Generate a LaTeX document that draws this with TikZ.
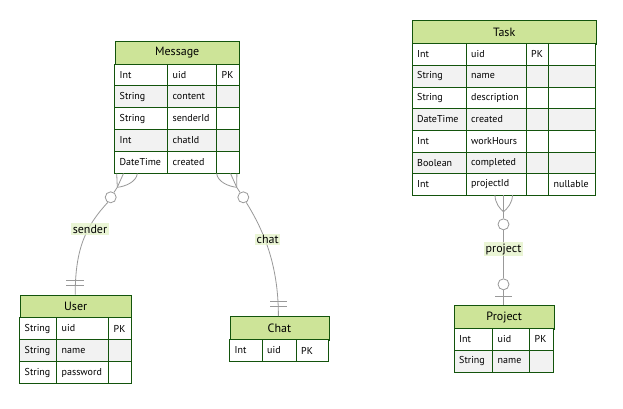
\documentclass[tikz,border=0pt]{standalone}
\usepackage{fontspec}
\setmainfont{PT Sans}
\definecolor{erb}{HTML}{13540C}
\definecolor{hdrfill}{HTML}{CDE498}
\definecolor{rowgrey}{HTML}{F2F2F2}
\definecolor{lnk}{HTML}{999999}
\definecolor{lblbg}{HTML}{E4F2C8}
\newcount\cellno
\newcommand\ercell[6]{%
  \global\advance\cellno by 1
  \filldraw[fill=#5, draw=erb, line width=0.9pt] (#1,#2) rectangle (#3,#4);
  \node[attr] (cell\the\cellno) at (#1,{(#2+#4)/2}) {#6};
}
\newcommand\rowthree[6]{%
  \ercell{\xa}{#1}{\xb}{#2}{#3}{#4}%
  \ercell{\xb}{#1}{\xc}{#2}{#3}{#5}%
  \ercell{\xc}{#1}{\xd}{#2}{#3}{#6}%
}
\newcommand\rowfour[7]{%
  \ercell{\xa}{#1}{\xb}{#2}{#3}{#4}%
  \ercell{\xb}{#1}{\xc}{#2}{#3}{#5}%
  \ercell{\xc}{#1}{\xd}{#2}{#3}{#6}%
  \ercell{\xd}{#1}{\xe}{#2}{#3}{#7}%
}
\begin{document}
\begin{tikzpicture}[x=1pt,y=-1pt,
  attr/.style={anchor=west, inner sep=0pt, xshift=5pt, font=\fontsize{10}{12}\selectfont},
  hdr/.style={anchor=north west, draw=erb, fill=hdrfill, line width=0.9pt, inner sep=0pt,
    font=\fontsize{12}{14}\selectfont},
  lnkline/.style={draw=lnk, line width=0.8pt},
  ring/.style={circle, draw=lnk, line width=0.8pt, fill=white, minimum size=11pt, inner sep=0pt},
  lbl/.style={fill=lblbg, fill opacity=0.75, text opacity=1, inner sep=1.5pt,
    font=\fontsize{12}{14}\selectfont}]
\useasboundingbox (0,0) rectangle (623,408);
\fill[white] (0,0) rectangle (623,408);

% ---------- Message ----------
\def\xa{114.5}\def\xb{167.5}\def\xc{216.5}\def\xd{239}
\node[hdr, minimum width=124.5pt, minimum height=23.5pt] (message) at (114.5,40.5) {Message};
\rowthree{64}{85.5}{white}{Int}{uid}{PK}
\rowthree{85.5}{107.5}{rowgrey}{String}{content}{}
\rowthree{107.5}{129.5}{white}{String}{senderId}{}
\rowthree{129.5}{151.5}{rowgrey}{Int}{chatId}{}
\rowthree{151.5}{173.5}{white}{DateTime}{created}{}

% ---------- Task ----------
\def\xa{412}\def\xb{466}\def\xc{526}\def\xd{548.5}\def\xe{595.5}
\node[hdr, minimum width=183.5pt, minimum height=23.5pt] (task) at (412,20) {Task};
\rowfour{43.5}{65}{white}{Int}{uid}{PK}{}
\rowfour{65}{87}{rowgrey}{String}{name}{}{}
\rowfour{87}{108.5}{white}{String}{description}{}{}
\rowfour{108.5}{130}{rowgrey}{DateTime}{created}{}{}
\rowfour{130}{152}{white}{Int}{workHours}{}{}
\rowfour{152}{173.5}{rowgrey}{Boolean}{completed}{}{}
\rowfour{173.5}{195}{white}{Int}{projectId}{}{nullable}

% ---------- User ----------
\def\xa{19.5}\def\xb{56.5}\def\xc{108.5}\def\xd{131}
\node[hdr, minimum width=111.5pt, minimum height=23pt] (user) at (19.5,294.5) {User};
\rowthree{317.5}{339.5}{white}{String}{uid}{PK}
\rowthree{339.5}{361.5}{rowgrey}{String}{name}{}
\rowthree{361.5}{383.5}{white}{String}{password}{}

% ---------- Chat ----------
\def\xa{229.5}\def\xb{262}\def\xc{296}\def\xd{328.5}
\node[hdr, minimum width=99pt, minimum height=23.5pt] (chat) at (229.5,316) {Chat};
\rowthree{339.5}{361.5}{white}{Int}{uid}{PK}

% ---------- Project ----------
\def\xa{454}\def\xb{492.5}\def\xc{529.5}\def\xd{553.5}
\node[hdr, minimum width=99.5pt, minimum height=23.5pt] (project) at (454,305) {Project};
\rowthree{328.5}{350}{white}{Int}{uid}{PK}
\rowthree{350}{372.5}{rowgrey}{String}{name}{}

% ---------- Message -- User (sender) ----------
\coordinate (a1) at (117.3,187.3);
\coordinate (m1l) at (116.7,173.5);
\coordinate (m1m) at (123.5,173.5);
\coordinate (m1r) at (137.3,173.5);
\coordinate (u1) at (75.2,294.5);
\coordinate (u1b1l) at (66,280); \coordinate (u1b1r) at (83.5,280);
\coordinate (u1b2l) at (66,285); \coordinate (u1b2r) at (83.5,285);
\node[ring] (r1) at (110.7,197.3) {};
\draw[lnkline] (m1l) -- (a1);
\draw[lnkline] (m1m) -- (a1);
\draw[lnkline] (m1r) .. controls (136.5,182) and (125,186.5) .. (a1);
\draw[lnkline] (a1) -- (r1);
\draw[lnkline] (r1.-120) .. controls (86,226) and (75.2,248) .. (u1);
\draw[lnkline] (u1b1l) -- (u1b1r);
\draw[lnkline] (u1b2l) -- (u1b2r);
\node[lbl] (l1) at (90,229) {sender};

% ---------- Message -- Chat (chat) ----------
\coordinate (a2) at (236.7,187.3);
\coordinate (m2l) at (216.7,173.5);
\coordinate (m2m) at (230.5,173.5);
\coordinate (m2r) at (236.9,173.5);
\coordinate (c2) at (278.4,316);
\coordinate (c2b1l) at (270,301.7); \coordinate (c2b1r) at (287,301.7);
\coordinate (c2b2l) at (270,306.7); \coordinate (c2b2r) at (287,306.7);
\node[ring] (r2) at (243.3,197.3) {};
\draw[lnkline] (m2r) -- (a2);
\draw[lnkline] (m2m) -- (a2);
\draw[lnkline] (m2l) .. controls (217.5,182) and (229,186.5) .. (a2);
\draw[lnkline] (a2) -- (r2);
\draw[lnkline] (r2.-60) .. controls (262,228) and (278.4,262) .. (c2);
\draw[lnkline] (c2b1l) -- (c2b1r);
\draw[lnkline] (c2b2l) -- (c2b2r);
\node[lbl] (l2) at (267.7,239.3) {chat};

% ---------- Task -- Project (project) ----------
\coordinate (a3) at (503.5,211.7);
\coordinate (t3l) at (495,195);
\coordinate (t3m) at (503.5,195);
\coordinate (t3r) at (512.5,195);
\coordinate (p3) at (503.5,305);
\coordinate (p3bl) at (495,296); \coordinate (p3br) at (512,296);
\node[ring] (r3) at (503.5,224.3) {};
\node[ring] (r4) at (503.5,284.3) {};
\draw[lnkline] (t3m) -- (a3);
\draw[lnkline] (t3l) .. controls (495,203) and (500,209) .. (a3);
\draw[lnkline] (t3r) .. controls (512.5,203) and (507,209) .. (a3);
\draw[lnkline] (a3) -- (r3);
\draw[lnkline] (r3) -- (r4);
\draw[lnkline] (r4) -- (p3);
\draw[lnkline] (p3bl) -- (p3br);
\node[lbl] (l3) at (503.5,249.3) {project};
\end{tikzpicture}
\end{document}
